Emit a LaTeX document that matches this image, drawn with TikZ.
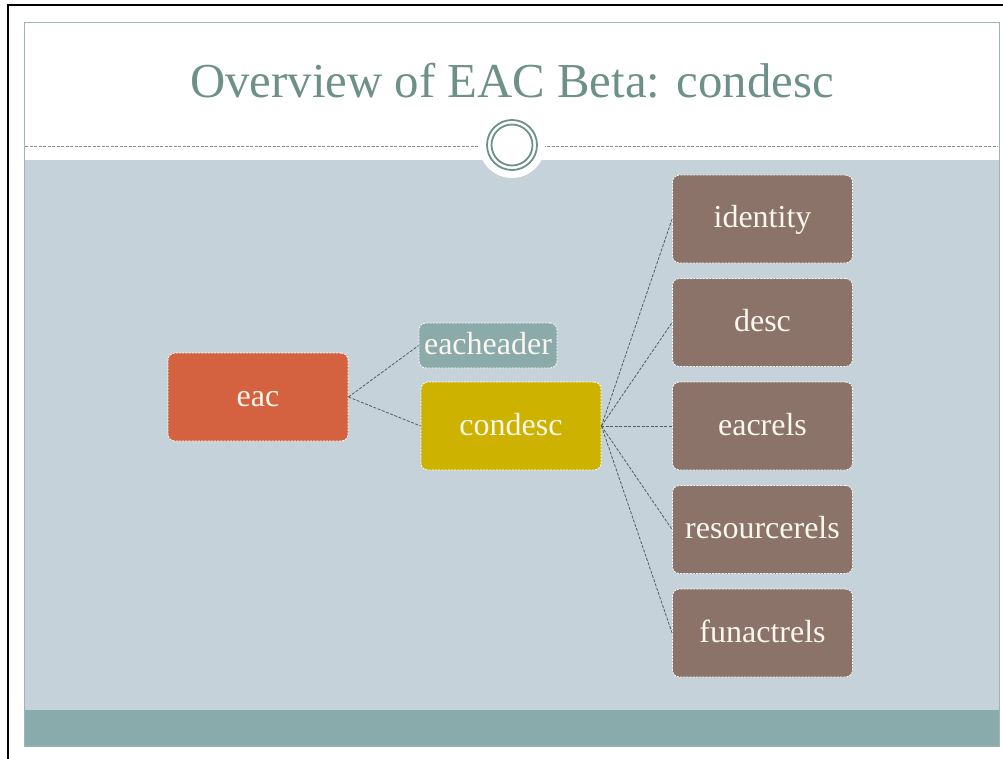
\documentclass[tikz,border=0pt]{standalone}
\usepackage{fontspec}
\setmainfont{Liberation Serif}
\definecolor{bggray}{HTML}{C6D2DA}
\definecolor{tealbar}{HTML}{8AABAB}
\definecolor{titlecol}{HTML}{6D9189}
\definecolor{eaccol}{HTML}{D4613F}
\definecolor{hdrcol}{HTML}{8BAAAA}
\definecolor{condcol}{HTML}{CDB200}
\definecolor{browncol}{HTML}{8B7369}
\definecolor{txtcol}{HTML}{FBF7EE}
\definecolor{linecol}{HTML}{555B62}
\definecolor{framecol}{HTML}{A3B2B2}
\begin{document}
\begin{tikzpicture}[x=1pt,y=-1pt,
  box/.style={draw=white, line width=0.8pt, dash pattern=on 2pt off 1.2pt,
    rounded corners=7pt, text=txtcol, font=\fontsize{32}{36}\selectfont,
    minimum width=180pt, minimum height=88pt, inner sep=0pt,
    text height=18pt, text depth=0pt},
  conn/.style={draw=linecol, line width=0.8pt, dash pattern=on 3pt off 1.5pt}]
\useasboundingbox (0,0) rectangle (1003,759);
\fill[white] (0,0) rectangle (1003,759);
% slide areas
\fill[bggray] (24,160) rectangle (999,710);
\fill[tealbar] (24,710) rectangle (999,746);
\draw[framecol, line width=0.8pt] (24,22) rectangle (999,746);
\draw[draw=framecol!80!black, line width=0.7pt, dash pattern=on 3pt off 1.5pt] (25,146) -- (998,146);
% circle ornament
\fill[white] (512,145) circle (33);
\draw[titlecol, line width=1.8pt] (512,145) circle (25);
\draw[titlecol, line width=1.8pt] (512,145) circle (20.5);
% outer black border
\draw[black, line width=2.4pt] (8,759) -- (8,5) -- (1003,5);
% title
\node[anchor=base, text=titlecol, font=\fontsize{48.8}{56}\selectfont, inner sep=0pt] (title) at (512,98) {Overview of EAC Beta: condesc};
% nodes
\node[box, fill=eaccol] (eac) at (258,397) {eac};
\node[box, fill=hdrcol, minimum width=138pt, minimum height=45pt] (hdr) at (488,345.5) {eacheader};
\node[box, fill=condcol] (cond) at (511,426) {condesc};
\node[box, fill=browncol] (ident) at (762.5,219) {identity};
\node[box, fill=browncol] (desc) at (762.5,322.5) {desc};
\node[box, fill=browncol] (eacrels) at (762.5,426) {eacrels};
\node[box, fill=browncol] (resrels) at (762.5,529.5) {resourcerels};
\node[box, fill=browncol] (funrels) at (762.5,633) {funactrels};
% connectors
\draw[conn] (eac.east) -- (hdr.west);
\draw[conn] (eac.east) -- (cond.west);
\foreach \n in {ident,desc,eacrels,resrels,funrels}{
  \draw[conn] (cond.east) -- (\n.west);
}
\end{tikzpicture}
\end{document}
